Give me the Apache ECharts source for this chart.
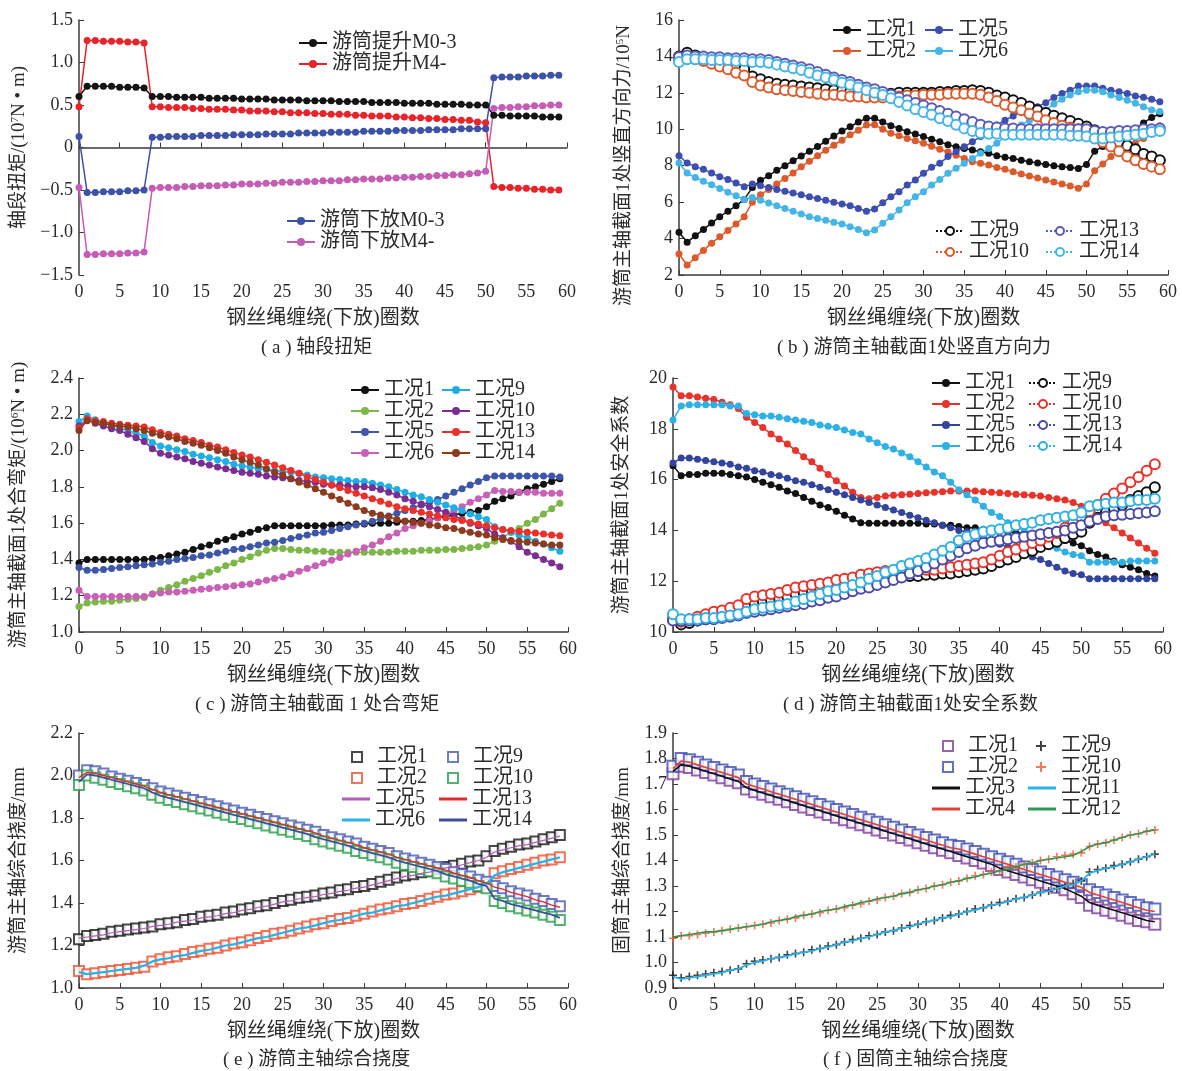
<!DOCTYPE html>
<html>
<head>
<meta charset="utf-8">
<script src="https://cdn.jsdelivr.net/npm/echarts@6/dist/echarts.min.js"></script>
<style>
  body { margin: 0; background: #fff; }
  .p { position: absolute; width: 591px; height: 357px; }
</style>
</head>
<body>
<div id="pa" class="p" style="left:0;top:0"></div>
<div id="pb" class="p" style="left:591px;top:0"></div>
<div id="pc" class="p" style="left:0;top:357px"></div>
<div id="pd" class="p" style="left:591px;top:357px"></div>
<div id="pe" class="p" style="left:0;top:714px"></div>
<div id="pf" class="p" style="left:591px;top:714px"></div>
<script>
// x: 钢丝绳缠绕(下放)圈数 0..59
const xTicks = [0, 5, 10, 15, 20, 25, 30, 35, 40, 45, 50, 55, 60];

// (a) 轴段扭矩
const aUpM03 = [0.60,0.72,0.72,0.72,0.72,0.71,0.71,0.71,0.70,0.60, 0.60,0.60,0.59,0.59,0.59,0.59,0.58,0.58,0.58,0.58, 0.57,0.57,0.57,0.57,0.56,0.56,0.56,0.56,0.55,0.55, 0.55,0.55,0.54,0.54,0.54,0.54,0.53,0.53,0.53,0.53, 0.52,0.52,0.52,0.52,0.51,0.51,0.51,0.51,0.50,0.50, 0.50,0.38,0.38,0.37,0.37,0.37,0.37,0.36,0.36,0.36];
const aUpM4 = [0.48,1.26,1.26,1.25,1.25,1.25,1.24,1.24,1.23,0.48, 0.48,0.47,0.47,0.47,0.46,0.46,0.45,0.45,0.45,0.44, 0.44,0.43,0.43,0.43,0.42,0.42,0.41,0.41,0.41,0.40, 0.40,0.39,0.39,0.39,0.38,0.38,0.37,0.37,0.37,0.36, 0.36,0.35,0.35,0.34,0.34,0.33,0.33,0.32,0.32,0.30, 0.29,-0.46,-0.47,-0.47,-0.48,-0.48,-0.49,-0.49,-0.50,-0.50];
const aDownM03 = [0.13,-0.53,-0.53,-0.52,-0.52,-0.52,-0.51,-0.51,-0.50,0.12, 0.12,0.13,0.13,0.13,0.13,0.14,0.14,0.14,0.14,0.15, 0.15,0.15,0.15,0.16,0.16,0.16,0.16,0.17,0.17,0.17, 0.17,0.18,0.18,0.18,0.18,0.19,0.19,0.19,0.19,0.20, 0.20,0.20,0.20,0.21,0.21,0.21,0.21,0.22,0.22,0.22, 0.22,0.82,0.83,0.83,0.83,0.84,0.84,0.84,0.85,0.85];
const aDownM4 = [-0.47,-1.26,-1.26,-1.25,-1.25,-1.25,-1.24,-1.24,-1.23,-0.48, -0.47,-0.47,-0.47,-0.46,-0.46,-0.45,-0.45,-0.45,-0.44,-0.44, -0.43,-0.43,-0.43,-0.42,-0.42,-0.41,-0.41,-0.41,-0.40,-0.40, -0.39,-0.39,-0.39,-0.38,-0.38,-0.37,-0.37,-0.37,-0.36,-0.36, -0.35,-0.35,-0.34,-0.34,-0.33,-0.33,-0.32,-0.32,-0.31,-0.30, -0.28,0.46,0.47,0.47,0.48,0.48,0.49,0.49,0.50,0.50];

// (b) 竖直方向力
const b1 = [4.35,3.8,4.15,4.5,4.85,5.2,5.5,5.8,6.15,6.8, 7.2,7.45,7.75,8.0,8.27,8.53,8.8,9.05,9.35,9.63, 9.9,10.14,10.4,10.6,10.6,10.4,10.2,10.05,9.87,9.74, 9.6,9.45,9.32,9.15,9.04,8.95,8.86,8.77,8.68,8.55, 8.47,8.4,8.3,8.22,8.15,8.07,8.0,7.95,7.9,7.85, 8.07,8.8,9.05,9.3,9.5,9.75,10.05,10.35,10.65,10.85];
const b2 = [3.15,2.55,2.95,3.35,3.75,4.1,4.45,4.8,5.2,6.0, 6.4,6.7,7.0,7.3,7.6,7.95,8.25,8.55,8.85,9.13, 9.4,9.7,9.95,10.23,10.25,10.0,9.78,9.65,9.5,9.37, 9.23,9.07,8.9,8.75,8.58,8.4,8.22,8.13,8.04,7.9, 7.8,7.67,7.55,7.43,7.32,7.21,7.1,7.0,6.88,6.76, 7.0,7.73,8.1,8.5,8.77,9.0,9.25,9.5,9.85,10.2];
const b5 = [8.55,8.15,7.95,7.8,7.6,7.4,7.25,7.05,6.85,7.0, 6.9,6.8,6.7,6.6,6.5,6.4,6.3,6.2,6.1,6.0, 5.9,5.8,5.65,5.5,5.62,5.97,6.3,6.57,6.94,7.21, 7.58,7.91,8.13,8.5,8.77,9.04,9.32,9.6,9.96,10.23, 10.5,10.73,10.97,11.1,11.24,11.46,11.75,11.97,12.15,12.38, 12.38,12.38,12.25,12.15,12.06,11.97,11.83,11.76,11.65,11.51];
const b6 = [8.15,7.6,7.35,7.15,6.95,6.75,6.55,6.35,6.15,6.25, 6.1,5.95,5.8,5.65,5.5,5.35,5.2,5.1,5.0,4.9, 4.8,4.65,4.5,4.32,4.47,4.84,5.2,5.57,5.97,6.3, 6.57,6.94,7.25,7.58,7.86,8.13,8.4,8.68,8.95,9.23, 9.6,9.87,10.23,10.5,10.78,11.06,11.39,11.65,11.88,12.06, 12.15,12.15,12.06,11.88,11.75,11.6,11.43,11.24,11.06,10.97];
const b9 = [14.0,14.2,14.05,13.95,13.85,13.75,13.6,13.45,13.3,12.9, 12.75,12.6,12.5,12.45,12.4,12.35,12.3,12.25,12.2,12.15, 12.1,12.05,12.0,12.0,11.95,11.95,11.95,12.0,12.0,12.0, 12.0,12.0,12.05,12.05,12.1,12.1,12.15,12.1,12.0,11.85, 11.75,11.6,11.45,11.25,11.05,10.9,10.75,10.6,10.45,10.3, 10.15,9.95,9.7,9.5,9.3,9.1,8.9,8.65,8.5,8.3];
const b10 = [13.9,14.0,13.85,13.75,13.6,13.45,13.3,13.1,12.95,12.6, 12.4,12.3,12.2,12.15,12.1,12.05,12.0,11.95,11.9,11.9, 11.85,11.8,11.8,11.75,11.75,11.75,11.75,11.8,11.85,11.85, 11.9,11.9,11.9,11.95,11.95,11.95,11.95,11.9,11.75,11.55, 11.35,11.2,11.05,10.85,10.7,10.5,10.35,10.2,10.1,10.0, 9.8,9.55,9.3,9.05,8.8,8.5,8.3,8.1,7.95,7.8];
const b13 = [13.95,14.05,14.0,14.0,13.95,13.95,13.9,13.9,13.9,13.85, 13.85,13.8,13.7,13.6,13.5,13.4,13.3,13.15,13.0,12.85, 12.7,12.6,12.45,12.3,12.2,12.05,11.9,11.75,11.6,11.45, 11.3,11.15,11.0,10.85,10.7,10.55,10.4,10.25,10.15,10.1, 10.05,10.05,10.0,10.0,10.0,10.0,10.0,10.0,10.0,10.0, 10.0,9.9,9.85,9.85,9.9,9.9,9.95,10.0,10.0,10.05];
const b14 = [13.7,13.85,13.85,13.85,13.8,13.8,13.8,13.75,13.75,13.7, 13.7,13.65,13.55,13.45,13.35,13.25,13.1,12.95,12.85,12.7, 12.55,12.45,12.3,12.15,12.0,11.88,11.7,11.5,11.3,11.1, 10.95,10.8,10.6,10.45,10.25,10.05,9.9,9.8,9.75,9.75, 9.7,9.7,9.7,9.7,9.7,9.7,9.7,9.7,9.65,9.65, 9.6,9.5,9.5,9.55,9.6,9.65,9.7,9.75,9.85,9.9];

// (c) 合弯矩
const c1 = [1.38,1.40,1.40,1.40,1.40,1.40,1.40,1.40,1.40,1.405, 1.41,1.42,1.43,1.44,1.455,1.47,1.48,1.50,1.51,1.525, 1.54,1.55,1.565,1.575,1.585,1.585,1.585,1.585,1.585,1.585, 1.585,1.59,1.59,1.59,1.595,1.595,1.60,1.60,1.60,1.605, 1.61,1.61,1.615,1.62,1.63,1.635,1.645,1.655,1.66,1.67, 1.69,1.72,1.735,1.75,1.77,1.79,1.80,1.815,1.83,1.845];
const c2 = [1.14,1.16,1.165,1.17,1.17,1.175,1.18,1.185,1.19,1.21, 1.23,1.245,1.26,1.28,1.295,1.31,1.33,1.345,1.365,1.38, 1.40,1.415,1.435,1.45,1.46,1.46,1.455,1.45,1.45,1.445, 1.445,1.44,1.44,1.44,1.44,1.44,1.44,1.44,1.44,1.445, 1.445,1.445,1.45,1.45,1.45,1.455,1.455,1.46,1.465,1.47, 1.48,1.50,1.52,1.55,1.57,1.60,1.62,1.65,1.68,1.71];
const c5 = [1.355,1.34,1.34,1.345,1.35,1.355,1.36,1.365,1.37,1.375, 1.385,1.39,1.40,1.405,1.41,1.42,1.425,1.435,1.445,1.455, 1.46,1.47,1.48,1.49,1.495,1.505,1.515,1.525,1.535,1.545, 1.55,1.56,1.57,1.58,1.59,1.60,1.61,1.625,1.64,1.655, 1.67,1.685,1.70,1.715,1.73,1.75,1.77,1.79,1.81,1.83, 1.85,1.86,1.86,1.86,1.86,1.86,1.86,1.86,1.86,1.855];
const c6 = [1.23,1.195,1.195,1.195,1.195,1.195,1.195,1.195,1.195,1.21, 1.215,1.22,1.22,1.225,1.23,1.235,1.24,1.245,1.25,1.255, 1.26,1.265,1.275,1.285,1.295,1.305,1.32,1.335,1.35,1.365, 1.38,1.395,1.41,1.43,1.445,1.465,1.48,1.50,1.525,1.545, 1.57,1.585,1.60,1.615,1.63,1.65,1.67,1.69,1.715,1.735, 1.755,1.78,1.775,1.775,1.77,1.77,1.77,1.765,1.765,1.765];
const c9 = [2.16,2.19,2.17,2.155,2.14,2.125,2.11,2.095,2.08,2.045, 2.025,2.015,2.005,1.995,1.98,1.97,1.96,1.95,1.94,1.925, 1.915,1.91,1.90,1.895,1.89,1.885,1.88,1.875,1.865,1.855, 1.85,1.845,1.84,1.835,1.83,1.83,1.82,1.81,1.80,1.785, 1.77,1.755,1.745,1.73,1.715,1.70,1.685,1.67,1.65,1.635, 1.62,1.58,1.565,1.55,1.535,1.52,1.50,1.485,1.465,1.445];
const c10 = [2.135,2.17,2.15,2.135,2.12,2.11,2.09,2.07,2.05,2.01, 1.985,1.975,1.965,1.955,1.94,1.93,1.92,1.91,1.90,1.89, 1.88,1.875,1.87,1.86,1.855,1.85,1.845,1.835,1.83,1.825, 1.815,1.81,1.81,1.805,1.80,1.80,1.795,1.785,1.77,1.755, 1.735,1.72,1.705,1.69,1.675,1.66,1.64,1.62,1.60,1.585, 1.57,1.54,1.52,1.50,1.47,1.44,1.42,1.40,1.38,1.36];
const c13 = [2.125,2.175,2.165,2.16,2.15,2.145,2.14,2.135,2.13,2.115, 2.10,2.09,2.08,2.065,2.055,2.045,2.03,2.02,2.005,1.99, 1.975,1.965,1.95,1.935,1.92,1.905,1.89,1.875,1.855,1.84, 1.825,1.81,1.795,1.78,1.765,1.75,1.735,1.72,1.705,1.69, 1.68,1.67,1.66,1.65,1.64,1.63,1.62,1.615,1.605,1.595, 1.585,1.575,1.565,1.56,1.555,1.55,1.545,1.54,1.535,1.53];
const c14 = [2.11,2.165,2.155,2.15,2.14,2.135,2.13,2.12,2.11,2.095, 2.085,2.075,2.065,2.05,2.04,2.03,2.015,2.0,1.985,1.965, 1.95,1.935,1.92,1.90,1.88,1.865,1.845,1.825,1.81,1.79, 1.77,1.75,1.73,1.71,1.69,1.67,1.655,1.645,1.635,1.62, 1.61,1.605,1.60,1.59,1.585,1.575,1.57,1.56,1.55,1.54, 1.535,1.52,1.51,1.505,1.50,1.495,1.49,1.485,1.48,1.48];

// (d) 安全系数
const d1 = [16.55,16.15,16.2,16.2,16.25,16.25,16.25,16.2,16.15,16.1, 16.0,15.9,15.8,15.7,15.55,15.45,15.3,15.15,15.0,14.9, 14.75,14.6,14.45,14.3,14.28,14.28,14.28,14.28,14.28,14.28, 14.28,14.25,14.25,14.2,14.2,14.15,14.1,14.1,14.05,14.0, 13.95,13.95,13.9,13.9,13.85,13.8,13.7,13.65,13.6,13.5, 13.4,13.2,13.05,12.95,12.8,12.65,12.55,12.45,12.3,12.2];
const d2 = [19.65,19.3,19.3,19.25,19.2,19.15,19.05,18.95,18.8,18.45, 18.25,18.05,17.8,17.6,17.4,17.15,16.9,16.7,16.45,16.2, 15.95,15.75,15.5,15.3,15.25,15.3,15.35,15.38,15.4,15.42, 15.45,15.48,15.5,15.52,15.55,15.55,15.55,15.55,15.52,15.5, 15.48,15.45,15.42,15.4,15.38,15.35,15.3,15.25,15.2,15.1, 14.95,14.7,14.45,14.3,14.1,13.9,13.7,13.5,13.3,13.1];
const d5 = [16.65,16.85,16.85,16.8,16.75,16.7,16.65,16.6,16.5,16.45, 16.35,16.3,16.2,16.15,16.05,15.95,15.9,15.8,15.7,15.6, 15.5,15.4,15.3,15.2,15.1,15.0,14.9,14.8,14.7,14.6, 14.5,14.4,14.3,14.2,14.1,14.0,13.95,13.85,13.75,13.6, 13.45,13.35,13.25,13.1,12.95,12.85,12.7,12.55,12.4,12.3, 12.25,12.1,12.1,12.1,12.1,12.1,12.1,12.1,12.1,12.1];
const d6 = [18.35,18.9,18.95,18.95,18.95,18.95,18.95,18.9,18.9,18.6, 18.55,18.5,18.5,18.45,18.4,18.35,18.3,18.25,18.15,18.1, 18.05,17.95,17.85,17.8,17.6,17.45,17.3,17.2,17.05,16.9, 16.7,16.5,16.3,16.15,15.9,15.6,15.4,15.2,14.95,14.7, 14.55,14.3,14.2,14.05,13.85,13.7,13.5,13.3,13.15,13.05, 13.0,12.75,12.75,12.75,12.75,12.75,12.8,12.8,12.8,12.8];
const d9 = [10.5,10.3,10.35,10.45,10.5,10.6,10.65,10.7,10.8,10.95, 11.1,11.2,11.25,11.3,11.4,11.5,11.55,11.6,11.7,11.75, 11.85,11.9,11.95,12.0,12.05,12.1,12.15,12.15,12.2,12.2, 12.2,12.25,12.25,12.3,12.3,12.35,12.4,12.45,12.5,12.6, 12.75,12.85,12.95,13.1,13.2,13.35,13.45,13.55,13.7,13.85, 13.95,14.3,14.5,14.7,14.85,15.0,15.2,15.35,15.5,15.7];
const d10 = [10.5,10.4,10.5,10.6,10.7,10.8,10.85,10.95,11.05,11.3, 11.4,11.45,11.5,11.55,11.65,11.75,11.8,11.85,11.9,11.95, 12.05,12.1,12.15,12.25,12.3,12.35,12.4,12.4,12.4,12.4, 12.4,12.45,12.45,12.5,12.55,12.6,12.65,12.7,12.75,12.85, 13.0,13.15,13.25,13.4,13.5,13.6,13.75,13.9,14.1,14.3, 14.5,14.75,15.0,15.25,15.45,15.65,15.9,16.1,16.35,16.6];
const d13 = [10.45,10.45,10.45,10.45,10.5,10.5,10.55,10.6,10.65,10.75, 10.8,10.85,10.9,10.95,11.0,11.05,11.1,11.2,11.25,11.35, 11.4,11.5,11.6,11.7,11.75,11.85,11.95,12.05,12.15,12.3, 12.4,12.55,12.7,12.85,13.0,13.15,13.3,13.4,13.5,13.55, 13.6,13.65,13.7,13.75,13.8,13.85,13.9,13.95,14.0,14.1, 14.2,14.35,14.45,14.55,14.6,14.62,14.65,14.68,14.7,14.75];
const d14 = [10.7,10.5,10.5,10.5,10.55,10.55,10.6,10.65,10.7,10.8, 10.9,10.95,11.0,11.05,11.1,11.2,11.3,11.4,11.5,11.6, 11.65,11.75,11.85,11.95,12.1,12.2,12.35,12.45,12.6,12.7, 12.8,12.9,13.05,13.2,13.35,13.6,13.75,13.85,13.95,14.0, 14.05,14.1,14.2,14.25,14.3,14.4,14.45,14.5,14.55,14.6, 14.7,14.95,15.0,15.05,15.1,15.1,15.15,15.2,15.2,15.25];

// (e) 游筒主轴综合挠度
const e1 = [1.23,1.245,1.25,1.255,1.265,1.27,1.275,1.28,1.285,1.29, 1.30,1.305,1.31,1.32,1.325,1.335,1.34,1.345,1.355,1.36, 1.37,1.375,1.385,1.39,1.40,1.41,1.415,1.425,1.43,1.435, 1.445,1.45,1.46,1.465,1.475,1.48,1.49,1.50,1.51,1.52, 1.53,1.535,1.545,1.55,1.56,1.57,1.575,1.585,1.595,1.60, 1.62,1.645,1.655,1.665,1.675,1.68,1.69,1.70,1.71,1.72];
const e2 = [1.08,1.065,1.07,1.075,1.08,1.085,1.09,1.095,1.10,1.125, 1.135,1.145,1.15,1.16,1.17,1.175,1.185,1.19,1.20,1.21, 1.215,1.225,1.235,1.245,1.255,1.26,1.27,1.28,1.29,1.30, 1.305,1.315,1.325,1.33,1.34,1.35,1.36,1.37,1.375,1.385, 1.395,1.40,1.41,1.42,1.43,1.44,1.445,1.455,1.465,1.475, 1.49,1.54,1.55,1.56,1.57,1.58,1.59,1.60,1.605,1.615];
const e5 = [1.235,1.24,1.245,1.25,1.26,1.265,1.27,1.275,1.28,1.29, 1.295,1.30,1.31,1.315,1.32,1.33,1.335,1.34,1.35,1.355, 1.365,1.37,1.38,1.385,1.395,1.405,1.41,1.42,1.425,1.43, 1.44,1.445,1.455,1.46,1.47,1.475,1.485,1.495,1.505,1.515, 1.525,1.53,1.54,1.545,1.555,1.565,1.57,1.58,1.59,1.60, 1.615,1.64,1.65,1.66,1.67,1.675,1.685,1.695,1.705,1.715];
const e6 = [1.075,1.065,1.07,1.075,1.08,1.085,1.09,1.095,1.105,1.125, 1.135,1.14,1.15,1.155,1.165,1.175,1.18,1.19,1.20,1.205, 1.215,1.225,1.235,1.24,1.25,1.26,1.27,1.28,1.285,1.295, 1.305,1.315,1.32,1.33,1.34,1.35,1.355,1.365,1.375,1.385, 1.39,1.40,1.41,1.42,1.43,1.435,1.445,1.455,1.465,1.475, 1.49,1.53,1.545,1.555,1.565,1.575,1.585,1.595,1.605,1.615];
const e9 = [2.0,2.025,2.02,2.01,1.995,1.985,1.975,1.965,1.955,1.94, 1.925,1.915,1.905,1.895,1.885,1.875,1.865,1.855,1.845,1.835, 1.825,1.815,1.805,1.795,1.785,1.775,1.765,1.755,1.745,1.735, 1.72,1.71,1.70,1.69,1.68,1.665,1.655,1.645,1.635,1.62, 1.61,1.60,1.59,1.58,1.57,1.56,1.545,1.535,1.525,1.51, 1.50,1.48,1.47,1.455,1.445,1.435,1.42,1.41,1.395,1.385];
const e10 = [1.955,2.0,1.99,1.98,1.97,1.96,1.95,1.94,1.93,1.91, 1.895,1.885,1.875,1.865,1.855,1.845,1.835,1.825,1.815,1.805, 1.795,1.785,1.775,1.765,1.755,1.745,1.735,1.725,1.715,1.70, 1.69,1.68,1.67,1.66,1.645,1.635,1.625,1.615,1.605,1.59, 1.58,1.57,1.56,1.55,1.54,1.525,1.515,1.505,1.495,1.48, 1.47,1.41,1.40,1.385,1.375,1.365,1.355,1.345,1.335,1.32];
const e13 = [1.99,2.015,2.01,2.0,1.99,1.98,1.97,1.96,1.95,1.935, 1.92,1.91,1.90,1.89,1.88,1.87,1.86,1.85,1.84,1.83, 1.82,1.81,1.80,1.79,1.78,1.77,1.76,1.75,1.74,1.73, 1.715,1.705,1.695,1.685,1.675,1.66,1.65,1.64,1.63,1.615, 1.605,1.595,1.585,1.575,1.565,1.555,1.54,1.53,1.52,1.505, 1.495,1.475,1.465,1.45,1.44,1.43,1.415,1.405,1.39,1.38];
const e14 = [1.97,2.005,2.0,1.99,1.98,1.97,1.96,1.95,1.94,1.92, 1.905,1.895,1.885,1.875,1.865,1.855,1.845,1.835,1.825,1.815, 1.805,1.795,1.785,1.775,1.765,1.755,1.745,1.735,1.725,1.71, 1.70,1.69,1.68,1.67,1.655,1.645,1.635,1.625,1.615,1.60, 1.59,1.58,1.57,1.56,1.55,1.535,1.525,1.515,1.505,1.49, 1.48,1.42,1.41,1.395,1.385,1.375,1.365,1.355,1.345,1.33];

// (f) 固筒主轴综合挠度
const f1 = [1.74,1.77,1.765,1.755,1.745,1.735,1.725,1.715,1.705,1.68, 1.67,1.66,1.65,1.64,1.63,1.62,1.61,1.60,1.59,1.58, 1.57,1.56,1.55,1.54,1.53,1.52,1.51,1.50,1.49,1.48, 1.47,1.46,1.45,1.44,1.43,1.42,1.41,1.40,1.39,1.38, 1.365,1.355,1.345,1.335,1.325,1.315,1.305,1.295,1.285,1.27, 1.255,1.225,1.215,1.205,1.195,1.185,1.175,1.165,1.16,1.15];
const f2 = [1.77,1.80,1.795,1.785,1.775,1.765,1.755,1.745,1.735,1.71, 1.70,1.69,1.68,1.67,1.66,1.65,1.64,1.63,1.62,1.61, 1.60,1.59,1.58,1.57,1.56,1.55,1.54,1.53,1.52,1.51, 1.50,1.49,1.48,1.47,1.46,1.455,1.445,1.435,1.425,1.415, 1.405,1.395,1.385,1.375,1.365,1.355,1.345,1.335,1.325,1.315, 1.305,1.285,1.275,1.265,1.255,1.245,1.235,1.225,1.215,1.21];
const f3 = [1.75,1.775,1.77,1.76,1.75,1.74,1.73,1.72,1.71,1.685, 1.675,1.665,1.655,1.645,1.635,1.625,1.615,1.605,1.595,1.585, 1.575,1.565,1.555,1.545,1.535,1.525,1.515,1.505,1.495,1.485, 1.475,1.465,1.455,1.445,1.435,1.425,1.415,1.405,1.395,1.385, 1.37,1.36,1.35,1.34,1.33,1.32,1.31,1.30,1.29,1.275, 1.26,1.235,1.225,1.215,1.205,1.195,1.185,1.175,1.165,1.16];
const f4 = [1.76,1.79,1.785,1.775,1.765,1.755,1.745,1.735,1.725,1.70, 1.69,1.68,1.67,1.66,1.65,1.64,1.63,1.62,1.61,1.60, 1.59,1.58,1.57,1.56,1.55,1.54,1.53,1.52,1.51,1.50, 1.49,1.48,1.47,1.46,1.45,1.445,1.435,1.425,1.415,1.405, 1.395,1.385,1.375,1.365,1.355,1.345,1.335,1.325,1.315,1.305, 1.295,1.275,1.265,1.255,1.245,1.235,1.225,1.215,1.205,1.20];
const f9 = [0.95,0.94,0.945,0.95,0.955,0.96,0.965,0.97,0.975,0.995, 1.005,1.01,1.015,1.02,1.03,1.035,1.04,1.05,1.055,1.065, 1.07,1.08,1.09,1.095,1.105,1.11,1.12,1.125,1.135,1.145, 1.15,1.16,1.165,1.175,1.185,1.19,1.20,1.21,1.215,1.225, 1.235,1.24,1.25,1.255,1.265,1.275,1.28,1.29,1.30,1.31, 1.32,1.355,1.365,1.37,1.38,1.385,1.395,1.405,1.415,1.425];
const f10 = [1.095,1.105,1.105,1.11,1.115,1.12,1.125,1.13,1.135,1.14, 1.145,1.15,1.155,1.165,1.17,1.175,1.185,1.19,1.195,1.205, 1.21,1.215,1.225,1.23,1.24,1.245,1.255,1.26,1.27,1.275, 1.285,1.29,1.30,1.305,1.315,1.32,1.33,1.34,1.345,1.355, 1.36,1.37,1.375,1.385,1.39,1.40,1.405,1.415,1.42,1.425, 1.43,1.455,1.465,1.47,1.48,1.49,1.50,1.505,1.515,1.52];
const f11 = [0.945,0.935,0.94,0.945,0.95,0.955,0.96,0.97,0.975,0.99, 1.0,1.005,1.015,1.02,1.025,1.035,1.04,1.045,1.055,1.06, 1.07,1.08,1.085,1.095,1.10,1.11,1.12,1.125,1.135,1.14, 1.15,1.16,1.165,1.175,1.18,1.19,1.20,1.205,1.215,1.225, 1.23,1.24,1.25,1.255,1.265,1.275,1.28,1.29,1.30,1.305, 1.32,1.35,1.36,1.37,1.375,1.385,1.395,1.405,1.415,1.425];
const f12 = [1.10,1.105,1.11,1.115,1.12,1.12,1.125,1.13,1.135,1.14, 1.145,1.15,1.16,1.165,1.17,1.18,1.185,1.19,1.20,1.205, 1.21,1.22,1.225,1.235,1.24,1.25,1.255,1.26,1.27,1.275, 1.285,1.29,1.30,1.305,1.315,1.32,1.33,1.335,1.345,1.35, 1.36,1.365,1.375,1.385,1.39,1.40,1.405,1.41,1.415,1.42, 1.435,1.455,1.465,1.47,1.48,1.49,1.50,1.505,1.515,1.52];

const FONT = "'Liberation Serif','Times New Roman','Noto Sans CJK SC',serif";
const TXT = '#2b2b2b';
const PLUS = 'path://M4,0L6,0L6,4L10,4L10,6L6,6L6,10L4,10L4,6L0,6L0,4L4,4Z';

// 把数组变成 [圈数, 值]
const pts = arr => arr.map((v, i) => [i, v]);

function dotLine(name, vals, color) {
    return { type: 'line', name, data: pts(vals), symbol: 'circle', symbolSize: 7,
        itemStyle: { color }, lineStyle: { color, width: 1.5 } };
}
function ringLine(name, vals, color) {
    return { type: 'line', name, data: pts(vals), symbol: 'emptyCircle', symbolSize: 10,
        itemStyle: { color, borderWidth: 1.4 }, lineStyle: { color, width: 1.5, type: 'dotted' } };
}
function plain(name, vals, color, w) {
    return { type: 'line', name, data: pts(vals), symbol: 'none', showSymbol: false,
        itemStyle: { color }, lineStyle: { color, width: w || 1.5 } };
}
function marks(name, vals, color, sym, size) {
    return { type: 'scatter', name, data: pts(vals), symbol: sym, symbolSize: size,
        itemStyle: { color, borderWidth: 1.4 } };
}
// 图例: 竖排, 每行 21px
function leg(data, left, top, more) {
    return Object.assign({ data, left, top, orient: 'vertical', padding: 0, itemWidth: 28, itemHeight: 10,
        itemGap: 1, textStyle: { fontFamily: FONT, fontSize: 20, color: TXT, lineHeight: 20 } }, more || {});
}
// 纯线条图例
function lineLeg(data, left, top) {
    return leg(data.map(n => ({ name: n, icon: 'rect' })), left, top, { itemHeight: 3 });
}
// 方块/十字图例
function markLeg(data, left, top) {
    return leg(data, left, top, { itemWidth: 10, itemHeight: 10,
        textStyle: { fontFamily: FONT, fontSize: 20, color: TXT, lineHeight: 20, padding: [0, 0, 0, 10] } });
}

function panel(id, cfg) {
    const chart = echarts.init(document.getElementById(id));
    const axisLine = { show: true, lineStyle: { color: '#3a3a3a', width: 1.5 } };
    chart.setOption({
        animation: false,
        textStyle: { fontFamily: FONT },
        title: { text: cfg.caption, left: cfg.capLeft, top: cfg.capTop,
            textStyle: { fontFamily: FONT, fontSize: 19, fontWeight: 'normal', color: TXT } },
        grid: cfg.grid,
        legend: cfg.legends,
        xAxis: {
            type: 'value', min: 0, max: 60, interval: 5,
            name: '钢丝绳缠绕(下放)圈数', nameLocation: 'middle', nameGap: 34,
            nameTextStyle: { fontFamily: FONT, fontSize: 20, color: TXT },
            axisLine, splitLine: { show: false },
            axisTick: { inside: true, length: 5, lineStyle: { color: '#3a3a3a' } },
            axisLabel: { fontFamily: FONT, fontSize: 18, color: TXT, margin: 8,
                formatter: v => (cfg.hide60 && v === 60) ? '' : String(v) }
        },
        yAxis: {
            type: 'value', min: cfg.yMin, max: cfg.yMax, interval: cfg.yStep,
            name: cfg.yName, nameLocation: 'middle', nameGap: cfg.nameGap, nameRotate: 90,
            nameTextStyle: { fontFamily: FONT, fontSize: 19, color: TXT, padding: cfg.namePad || 0,
                rich: { t: { fontFamily: FONT, fontSize: 19, color: TXT },
                        s: { fontFamily: FONT, fontSize: 11, color: TXT, verticalAlign: 'top', padding: [0, 0, 8, 0] } } },
            axisLine, splitLine: { show: false },
            axisTick: { inside: true, length: 5, lineStyle: { color: '#3a3a3a' } },
            axisLabel: { fontFamily: FONT, fontSize: 18, color: TXT, margin: 6, formatter: cfg.yFmt }
        },
        series: cfg.series
    });
    window.addEventListener('resize', () => chart.resize());
}

const fmt1 = v => v === 0 ? '0' : v.toFixed(1).replace('-', '\u2212');
const fmt0 = v => String(Math.round(v));

panel('pa', {
    caption: '( a ) 轴段扭矩', capLeft: 256, capTop: 334,
    grid: { left: 79, right: 24, top: 20, bottom: 82 },
    yMin: -1.5, yMax: 1.5, yStep: 0.5, yFmt: fmt1, nameGap: 50,
    yName: '{t|轴段扭矩/(10}{s|7}{t|N • m)}',
    legends: [leg(['游筒提升M0-3', '游筒提升M4-'], 298, 33), leg(['游筒下放M0-3', '游筒下放M4-'], 286, 211)],
    series: [
        dotLine('游筒提升M0-3', aUpM03, '#141414'),
        dotLine('游筒提升M4-', aUpM4, '#e8242a'),
        dotLine('游筒下放M0-3', aDownM03, '#3d52a6'),
        dotLine('游筒下放M4-', aDownM4, '#c45db3')
    ]
});

panel('pb', {
    caption: '( b ) 游筒主轴截面1处竖直方向力', capLeft: 181, capTop: 334,
    grid: { left: 88, right: 14, top: 20, bottom: 82 },
    yMin: 2, yMax: 16, yStep: 2, yFmt: fmt0, nameGap: 45, namePad: [0, 36, 0, 0],
    yName: '{t|游筒主轴截面1处竖直方向力/10}{s|5}{t|N}',
    legends: [leg(['工况1', '工况2'], 241, 20), leg(['工况5', '工况6'], 333, 20),
              leg(['工况9', '工况10'], 344, 221), leg(['工况13', '工况14'], 454, 221)],
    series: [
        dotLine('工况1', b1, '#111111'),
        dotLine('工况2', b2, '#dc5a2c'),
        dotLine('工况5', b5, '#3c4fb0'),
        dotLine('工况6', b6, '#45b5e8'),
        ringLine('工况9', b9, '#111111'),
        ringLine('工况10', b10, '#dc5a2c'),
        ringLine('工况13', b13, '#5a5ab8'),
        ringLine('工况14', b14, '#45b5e8')
    ]
});

panel('pc', {
    caption: '( c ) 游筒主轴截面 1 处合弯矩', capLeft: 190, capTop: 334,
    grid: { left: 79, right: 23, top: 21, bottom: 82 },
    yMin: 1.0, yMax: 2.4, yStep: 0.2, yFmt: fmt1, nameGap: 50,
    yName: '{t|游筒主轴截面1处合弯矩/(10}{s|6}{t|N • m)}',
    legends: [leg(['工况1', '工况2', '工况5', '工况6'], 350, 23),
              leg(['工况9', '工况10', '工况13', '工况14'], 441, 23)],
    series: [
        dotLine('工况1', c1, '#111111'),
        dotLine('工况2', c2, '#7db74a'),
        dotLine('工况5', c5, '#3d56aa'),
        dotLine('工况6', c6, '#c860b6'),
        dotLine('工况9', c9, '#1eaee6'),
        dotLine('工况10', c10, '#7a2d92'),
        dotLine('工况13', c13, '#ec2f28'),
        dotLine('工况14', c14, '#8e3a1e')
    ]
});

panel('pd', {
    caption: '( d ) 游筒主轴截面1处安全系数', capLeft: 187, capTop: 334,
    grid: { left: 82, right: 19, top: 21, bottom: 82 },
    yMin: 10, yMax: 20, yStep: 2, yFmt: fmt0, nameGap: 41,
    yName: '游筒主轴截面1处安全系数',
    legends: [leg(['工况1', '工况2', '工况5', '工况6'], 340, 16),
              leg(['工况9', '工况10', '工况13', '工况14'], 437, 16)],
    series: [
        dotLine('工况1', d1, '#111111'),
        dotLine('工况2', d2, '#e8322a'),
        dotLine('工况5', d5, '#33449e'),
        dotLine('工况6', d6, '#2db0e6'),
        ringLine('工况9', d9, '#111111'),
        ringLine('工况10', d10, '#e8322a'),
        ringLine('工况13', d13, '#4a4aa8'),
        ringLine('工况14', d14, '#2db0e6')
    ]
});

panel('pe', {
    caption: '( e ) 游筒主轴综合挠度', capLeft: 218, capTop: 332,
    grid: { left: 79, right: 23, top: 19, bottom: 83 },
    yMin: 1.0, yMax: 2.2, yStep: 0.2, yFmt: fmt1, nameGap: 50,
    yName: '游筒主轴综合挠度/mm',
    legends: [markLeg(['工况1', '工况2'], 351, 33), lineLeg(['工况5', '工况6'], 342, 75),
              markLeg(['工况9', '工况10'], 447, 33), lineLeg(['工况13', '工况14'], 439, 75)],
    series: [
        plain('工况5', e5, '#b35cb8', 1.2),
        plain('工况6', e6, '#27b2ea', 2.2),
        plain('工况13', e13, '#e52a2a', 1.4),
        plain('工况14', e14, '#3d4d9c', 1.8),
        marks('工况1', e1, '#1a1a1a', 'emptyRect', 10),
        marks('工况2', e2, '#ee5030', 'emptyRect', 10),
        marks('工况9', e9, '#4a5cb4', 'emptyRect', 10),
        marks('工况10', e10, '#2a9d4c', 'emptyRect', 10)
    ]
});

panel('pf', {
    caption: '( f ) 固筒主轴综合挠度', capLeft: 227, capTop: 332,
    grid: { left: 82, right: 19, top: 19, bottom: 83 },
    yMin: 0.9, yMax: 1.9, yStep: 0.1, yFmt: v => v.toFixed(1), nameGap: 40, hide60: true,
    yName: '固筒主轴综合挠度/mm',
    legends: [markLeg(['工况1', '工况2'], 351, 22), lineLeg(['工况3', '工况4'], 341, 64),
              markLeg(['工况9', '工况10'], 445, 22), lineLeg(['工况11', '工况12'], 437, 64)],
    series: [
        plain('工况3', f3, '#111111', 1.6),
        plain('工况4', f4, '#e8402e', 1.6),
        plain('工况11', f11, '#2ab4ee', 1.8),
        plain('工况12', f12, '#2a9a52', 1.6),
        marks('工况1', f1, '#7d3f98', 'emptyRect', 11),
        marks('工况2', f2, '#3f4db0', 'emptyRect', 11),
        marks('工况9', f9, '#111111', PLUS, 8),
        marks('工况10', f10, '#f2562e', PLUS, 8)
    ]
});
</script>
</body>
</html>
